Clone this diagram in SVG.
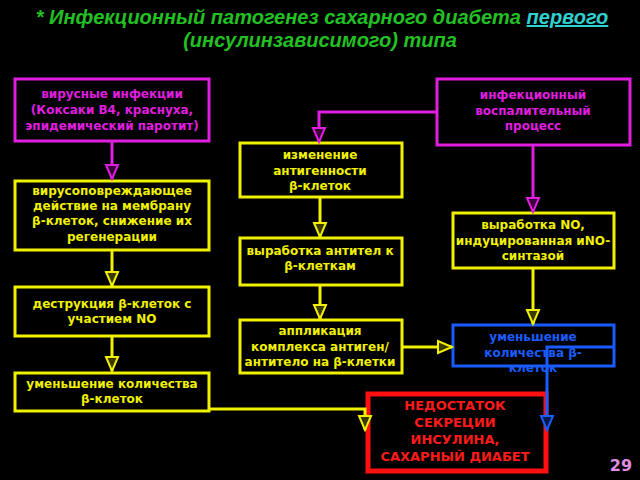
<svg xmlns="http://www.w3.org/2000/svg" width="640" height="480" viewBox="0 0 640 480">
<style>
.box{fill:#000;stroke-width:3}
.m{stroke:#e01ee0}
.y{stroke:#f0f000}
.b{stroke:#1a5cff}
.r{stroke:#ff1010;stroke-width:5}
.t{font-family:"DejaVu Sans",Verdana,sans-serif;font-weight:bold;font-size:12px;text-anchor:middle}
.tm{fill:#e01ee0}
.ty{fill:#f0f000}
.tb{fill:#1a5cff}
.tr{fill:#ff1a1a;font-size:13px}
.c{fill:none;stroke-width:3}
.title{font-family:"Liberation Sans",Arial,sans-serif;font-weight:bold;font-style:italic;font-size:20px;fill:#22c022;text-anchor:middle}
</style>
<defs>
<marker id="aY" markerUnits="userSpaceOnUse" markerWidth="18" markerHeight="18" viewBox="-16 -9 18 18" refX="0" refY="0" orient="auto">
<path d="M-14,-6 L-14,6 L0,0 Z" fill="#3a3a00" stroke="#f0f000" stroke-width="2"/>
</marker>
<marker id="aM" markerUnits="userSpaceOnUse" markerWidth="18" markerHeight="18" viewBox="-16 -9 18 18" refX="0" refY="0" orient="auto">
<path d="M-14,-6 L-14,6 L0,0 Z" fill="#3a003a" stroke="#e01ee0" stroke-width="2"/>
</marker>
<marker id="aB" markerUnits="userSpaceOnUse" markerWidth="18" markerHeight="18" viewBox="-16 -9 18 18" refX="0" refY="0" orient="auto">
<path d="M-14,-6 L-14,6 L0,0 Z" fill="#001a4a" stroke="#1a5cff" stroke-width="2"/>
</marker>
</defs>
<rect width="640" height="480" fill="#000"/>

<g id="title">
<text class="title" x="322" y="24">*  Инфекционный патогенез сахарного диабета <tspan fill="#30d0d0" text-decoration="underline">первого</tspan></text>
<text class="title" x="320" y="47">(инсулинзависимого) типа</text>
</g>

<g id="n1">
<rect class="box m" x="15" y="79" width="194" height="62"/>
<text class="t tm" x="112" y="98">вирусные инфекции</text>
<text class="t tm" x="112" y="114">(Коксаки В4, краснуха,</text>
<text class="t tm" x="112" y="130">эпидемический паротит)</text>
</g>
<g id="n2">
<rect class="box y" x="15" y="181" width="194" height="69"/>
<text class="t ty" x="112" y="195">вирусоповреждающее</text>
<text class="t ty" x="112" y="210">действие на мембрану</text>
<text class="t ty" x="112" y="225">β-клеток, снижение их</text>
<text class="t ty" x="112" y="241">регенерации</text>
</g>
<g id="n3">
<rect class="box y" x="15" y="287" width="194" height="49"/>
<text class="t ty" x="112" y="308">деструкция β-клеток с</text>
<text class="t ty" x="112" y="323">участием NO</text>
</g>
<g id="n4">
<rect class="box y" x="15" y="373" width="194" height="38"/>
<text class="t ty" x="112" y="388">уменьшение количества</text>
<text class="t ty" x="112" y="403">β-клеток</text>
</g>
<g id="n5">
<rect class="box m" x="437" y="79" width="193" height="66"/>
<text class="t tm" x="533" y="99">инфекционный</text>
<text class="t tm" x="533" y="115">воспалительный</text>
<text class="t tm" x="533" y="130">процесс</text>
</g>
<g id="n6">
<rect class="box y" x="240" y="143" width="162" height="54"/>
<text class="t ty" x="320" y="159">изменение</text>
<text class="t ty" x="320" y="175">антигенности</text>
<text class="t ty" x="320" y="190">β-клеток</text>
</g>
<g id="n7">
<rect class="box y" x="240" y="238" width="162" height="47"/>
<text class="t ty" x="320" y="255">выработка антител к</text>
<text class="t ty" x="320" y="270">β-клеткам</text>
</g>
<g id="n8">
<rect class="box y" x="240" y="320" width="162" height="53"/>
<text class="t ty" x="320" y="335">аппликация</text>
<text class="t ty" x="320" y="351">комплекса антиген/</text>
<text class="t ty" x="320" y="366">антитело на β-клетки</text>
</g>
<g id="n9">
<rect class="box y" x="453" y="213" width="161" height="55"/>
<text class="t ty" x="533" y="229">выработка NO,</text>
<text class="t ty" x="533" y="245">индуцированная иNO-</text>
<text class="t ty" x="533" y="260">синтазой</text>
</g>
<g id="n10">
<rect class="box b" x="453" y="325" width="161" height="41"/>
<text class="t tb" x="533" y="341">уменьшение</text>
<text class="t tb" x="533" y="357">количества β-</text>
<text class="t tb" x="533" y="372">клеток</text>
</g>
<g id="n11">
<rect class="box r" x="368" y="394" width="178" height="77"/>
<text class="t tr" x="455" y="410">НЕДОСТАТОК</text>
<text class="t tr" x="455" y="427">СЕКРЕЦИИ</text>
<text class="t tr" x="455" y="444">ИНСУЛИНА,</text>
<text class="t tr" x="455" y="461">САХАРНЫЙ ДИАБЕТ</text>
</g>

<g id="connectors">
<path class="c m" d="M112,141 V179" marker-end="url(#aM)"/>
<path class="c y" d="M112,250 V286" marker-end="url(#aY)"/>
<path class="c y" d="M112,336 V371" marker-end="url(#aY)"/>
<path class="c y" d="M209,409 H365 V430" marker-end="url(#aY)"/>
<path class="c m" d="M437,112 H319 V142" marker-end="url(#aM)"/>
<path class="c y" d="M320,197 V237" marker-end="url(#aY)"/>
<path class="c y" d="M320,285 V319" marker-end="url(#aY)"/>
<path class="c y" d="M402,347 H452" marker-end="url(#aY)"/>
<path class="c m" d="M533,145 V212" marker-end="url(#aM)"/>
<path class="c y" d="M533,268 V324" marker-end="url(#aY)"/>
<path class="c b" d="M614,347 H547 V430" marker-end="url(#aB)"/>
</g>

<text x="621" y="471" font-family="'DejaVu Sans',sans-serif" font-weight="bold" font-size="16" fill="#e08ee0" text-anchor="middle">29</text>
</svg>
